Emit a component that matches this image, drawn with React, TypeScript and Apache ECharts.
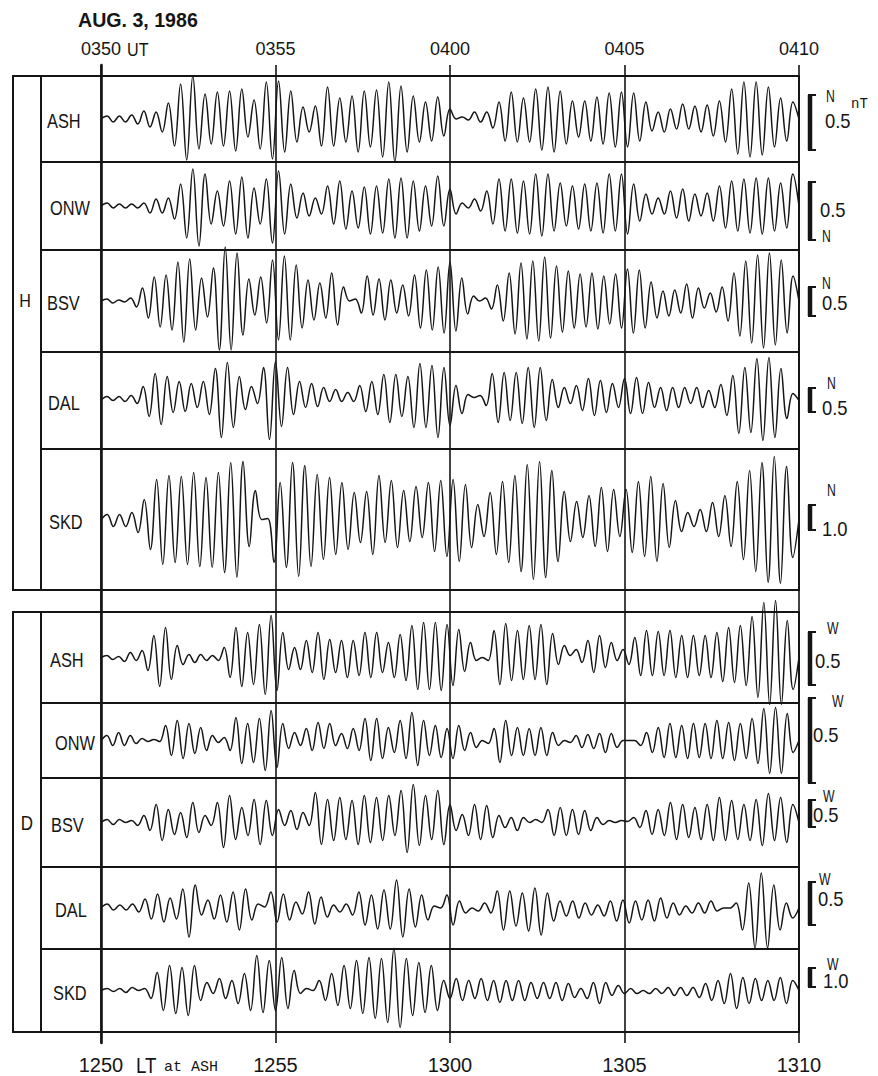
import React, { useEffect, useRef } from "react";
import * as echarts from "echarts";

// ---------- data ----------
const UT_LABELS = ["0350", "0355", "0400", "0405", "0410"];
const LT_LABELS = ["1250", "1255", "1300", "1305", "1310"];
const SPAN_SECONDS = 1200;
const TICK_SECONDS = 300;
const STATIONS = ["ASH", "ONW", "BSV", "DAL", "SKD"];
const COMPONENTS = ["H", "D"];

// successive extrema (peak, trough, ...) of each trace, in recorder units
const ASH_H = [
  3, -3, 3, -3, 4, -5, 8, -8, 7, -13, 16, -27, 35, -41, 43, -30, 25, -25, 27, -27,
  28, -32, 30, -18, 19, -30, 37, -40, 38, -33, 28, -23, 12, -13, 13, -27, 32, -27, 21, -23,
  23, -33, 28, -28, 29, -38, 37, -43, 33, -33, 23, -23, 17, -22,
  22, -17, 10, 0, 2, -1, 7, -3, 7, -9, 17, -22, 27, -23, 21, -23, 30, -31, 32, -33,
  28, -25, 18, -18, 18, -22, 22, -25, 26, -28, 27, -28, 26, -22, 17, -12, 7, -13, 10, -10,
  15, -10, 13, -13, 14, -17, 18, -23, 30, -35, 37, -38, 37, -36, 32, -28, 21, -22, 17,
];
const ONW_H = [
  3, -2, 2, -2, 2, -2, 3, -7, 7, -7, 8, -13, 22, -32, 37, -40, 32, -18, 15, -20,
  25, -28, 29, -32, 18, -18, 27, -37, 35, -28, 22, -12, 13, -10, 8, -8, 20, -18, 25, -23,
  15, -22, 19, -28, 20, -27, 27, -32, 28, -32, 25, -25, 20, -20, 30, -20,
  17, -8, 3, -2, 7, -5, 15, -18, 27, -25, 27, -27, 25, -28, 32, -30, 32, -25, 23, -20,
  20, -23, 22, -25, 23, -27, 32, -25, 32, -28, 22, -15, 12, -8, 8, -8, 15, -12, 17, -15,
  12, -10, 13, -15, 20, -22, 25, -25, 27, -27, 28, -28, 28, -25, 23, -22, 32,
];
const BSV_H = [
  2, -2, 1, -1, 3, -6, 13, -17, 24, -26, 26, -29, 39, -41, 42, -29, 23, -16, 33, -49,
  54, -49, 48, -34, 22, -14, 24, -22, 41, -39, 45, -39, 36, -27, 21, -19, 18, -17, 28, -24,
  14, 0, 2, -12, 25, -14, 22, -19, 21, -12, 16, -15, 26, -27, 31, -29, 34, -32, 39, -30,
  23, -13, 5, 0, 3, -8, 16, -20, 28, -33, 38, -38, 40, -40, 44, -37, 35, -31, 30, -27,
  27, -26, 28, -28, 25, -23, 27, -27, 32, -32, 31, -27, 19, -17, 10, -15, 11, -12, 17, -17,
  13, -7, 8, -11, 14, -20, 28, -35, 40, -42, 46, -47, 48, -44, 41, -32, 25,
];
const DAL_H = [
  4, 0, 4, -1, 5, -3, 14, -16, 27, -24, 24, -12, 19, -11, 17, -7, 19, -14, 32, -37,
  38, -27, 24, -9, 14, -3, 33, -39, 39, -26, 33, -14, 19, -7, 17, -6, 13, -1, 11, -1,
  8, -1, 15, -11, 19, -14, 26, -22, 26, -16, 24, -27, 37, -27, 35, -37, 33, -25,
  15, -13, 6, 3, 5, -5, 27, -22, 28, -20, 28, -23, 33, -27, 33, -20, 21, -7, 13, -3,
  15, -10, 22, -15, 20, -12, 17, -7, 22, -13, 23, -13, 18, -7, 13, -10, 13, -7, 13, -3,
  13, -7, 10, -7, 16, -15, 25, -33, 33, -32, 42, -40, 43, -37, 32, -18, 7,
];
const SKD_H = [
  5, -7, 5, -7, 7, -13, 20, -30, 40, -45, 44, -43, 43, -45, 47, -47, 42, -48, 47, -53,
  57, -58, 58, -27, 29, 0, 1, -43, 37, -48, 57, -57, 54, -47, 45, -40, 42, -35, 37, -30,
  27, -23, 28, -35, 44, -23, 39, -28, 29, -22, 33, -18, 37, -32, 39, -37,
  40, -42, 35, -28, 15, -17, 27, -35, 38, -43, 44, -52, 55, -60, 58, -58, 49, -42, 28, -22,
  18, -18, 24, -27, 32, -32, 30, -17, 30, -33, 38, -37, 43, -42, 36, -28, 19, -12, 7, -7,
  10, -12, 17, -17, 24, -27, 38, -40, 49, -52, 57, -63, 63, -64, 53, -38,
];
const ASH_D = [
  2, -2, 1, -4, 5, -3, 7, -13, 22, -29, 30, -22, 12, -7, 3, -5, 3, -3, 2, -3,
  10, -20, 30, -29, 25, -27, 33, -37, 42, -33, 25, -12, 10, -12, 17, -15, 25, -22, 18, -15,
  17, -20, 17, -18, 25, -20, 25, -15, 15, -20, 23, -23, 32, -32, 35, -32, 35, -33, 33, -28,
  28, -14, 15, -3, 0, -3, 27, -27, 34, -23, 27, -22, 32, -22, 33, -27, 24, -7, 12, 2,
  8, -5, 17, -15, 22, -10, 15, -3, 8, -7, 20, -18, 27, -18, 26, -18, 27, -20, 22, -20,
  22, -18, 22, -20, 25, -24, 30, -25, 32, -28, 41, -40, 55, -47, 57, -47, 37, -32,
];
const ONW_D = [
  5, -5, 8, -5, 5, -3, 2, -1, 1, -1, 15, -15, 20, -18, 17, -13, 13, -10, 5, -2,
  3, -10, 23, -23, 17, -22, 22, -30, 30, -27, 17, -8, 8, -5, 12, -10, 18, -8, 17, -5,
  7, -8, 12, -10, 22, -20, 22, -18, 13, -12, 20, -18, 28, -25, 20, -15, 15, -17, 12, -18,
  15, -10, 8, -7, 0, -3, 12, -22, 20, -15, 13, -15, 12, -15, 13, -15, 8, -5, 0, -2,
  5, -7, 6, -8, 7, -12, 7, -7, 0, 0, 0, -5, 8, -12, 13, -17, 17, -17, 15, -18,
  17, -17, 17, -18, 20, -18, 18, -20, 17, -18, 22, -23, 32, -33, 33, -33, 27, -12,
];
const BSV_D = [
  3, -2, 3, 0, 2, -3, 7, -8, 18, -18, 13, -12, 10, -15, 20, -10, 7, -3, 20, -25,
  27, -17, 15, -13, 23, -22, 22, -13, 13, -3, 12, -7, 10, -3, 30, -22, 23, -18, 25, -17,
  22, -22, 27, -20, 25, -18, 27, -13, 32, -30, 38, -23, 27, -17, 32, -22,
  18, -8, 8, -13, 18, -17, 17, -15, 7, -5, 5, -8, 5, 0, 3, 0, 13, -13, 15, -13,
  13, -12, 12, -8, 5, -2, 2, 0, 2, 1, 5, -5, 12, -12, 13, -13, 20, -17, 18, -15,
  15, -17, 18, -18, 25, -18, 22, -17, 18, -18, 23, -23, 29, -18, 25, -20, 18,
];
const DAL_D = [
  4, -2, 3, -2, 4, -4, 9, -11, 14, -14, 10, -11, 19, -29, 23, -7, 8, -11, 13, -14,
  16, -22, 19, -12, 4, 1, 16, -14, 14, -12, 6, -6, 16, -16, 11, -9, 3, -4, 4, -7,
  16, -17, 13, -21, 18, -21, 28, -29, 19, -19, 13, -12,
  2, 0, 13, -17, 7, -5, 0, -3, 5, -5, 17, -22, 17, -18, 15, -23, 20, -27, 15, -13,
  7, -8, 7, -10, 5, -7, 3, -8, 7, -13, 8, -15, 7, -12, 8, -13, 10, -10, 5, -7,
  2, -5, 5, -5, 7, -3, 0, 0, 5, -22, 25, -40, 35, -40, 23, -22, 5, -10,
];
const SKD_D = [
  2, -1, 2, -2, 3, 0, 2, -8, 18, -20, 25, -23, 23, -25, 25, -10, 8, -3, 12, -8,
  10, -13, 17, -20, 35, -22, 30, -20, 33, -18, 20, -3, 2, 0, 10, -10, 17, -15, 25, -18,
  30, -23, 33, -28, 32, -32, 42, -37, 32, -25, 28, -22, 25, -20,
  10, -8, 12, -10, 10, -8, 12, -10, 10, -12, 10, -10, 10, -10, 8, -8, 8, -8, 8, -10,
  7, -7, 2, -8, 8, -13, 8, -5, 5, -3, 2, -3, 0, -3, 2, -3, 3, -5, 3, -5,
  3, -7, 7, -10, 10, -13, 17, -18, 13, -13, 12, -10, 10, -10, 13, -13, 10,
];
const TRACES = [ASH_H, ONW_H, BSV_H, DAL_H, SKD_H, ASH_D, ONW_D, BSV_D, DAL_D, SKD_D];

// calibration bars: length in recorder units, value (nT), direction
const SCALE_LEN = [55, 58, 29, 24, 25, 53, 85, 27, 43, 19];
const SCALE_VALUE = ["0.5", "0.5", "0.5", "0.5", "1.0", "0.5", "0.5", "0.5", "0.5", "1.0"];
const SCALE_DIR = ["N", "N", "N", "N", "N", "W", "W", "W", "W", "W"];

// ---------- layout ----------
const W = 878;
const H = 1076;
const PLOT_L = 101;
const PLOT_R = 799;
const BOX_L = 13;
const COL_M = 41;
const PANEL_ROWS = [
  [76, 162, 250, 352, 449, 590],
  [612, 703, 778, 867, 949, 1032],
];
const LINE_TOP = 65;
const LINE_BOTTOM = 1043;
const BAR_TOP = [24, 24, 14, 12.5, 14.5, 25.5, 42.5, 22.5, 26, 22.5];
const BAR_DX = 10; // px right of the 0410 line
const SERIF = 7;
const NAME_X = [47, 50, 47, 48, 49, 50, 55, 51, 55, 53];
// [dirX, dirY, valX, valY]
const SCALE_TEXT_POS = [
  [826, 96, 825, 121],
  [822, 236, 820, 210],
  [822, 283, 822, 303],
  [827, 383, 822, 408],
  [827, 490, 822, 529],
  [827, 628, 815, 661],
  [832, 701, 813, 735],
  [823, 796, 813, 815],
  [819, 879, 818, 899],
  [827, 964, 823, 981],
];

const SANS = "'Liberation Sans', Arimo, Arial, sans-serif";
const MONO = "'Liberation Mono', 'DejaVu Sans Mono', monospace";
const INK = "#151515";

function rowsOf(): [number, number][] {
  const out: [number, number][] = [];
  PANEL_ROWS.forEach((r) => {
    for (let i = 0; i < r.length - 1; i++) out.push([r[i], r[i + 1]]);
  });
  return out;
}

function toSeriesData(ext: number[]): [number, number][] {
  const n = ext.length + 1;
  const pts: [number, number][] = [[0, 0]];
  ext.forEach((v, i) => pts.push([((i + 1) * SPAN_SECONDS) / n, v]));
  pts.push([SPAN_SECONDS, 0]);
  return pts;
}

const line = (x1: number, y1: number, x2: number, y2: number, w = 1.8) => ({
  type: "line",
  shape: { x1, y1, x2, y2 },
  style: { stroke: INK, lineWidth: w },
  silent: true,
});
const text = (
  x: number,
  y: number,
  t: string,
  font: string,
  align = "left",
  sx = 1,
) => ({
  type: "text",
  x,
  y,
  scaleX: sx,
  silent: true,
  style: { text: t, font, fill: INK, textAlign: align, textVerticalAlign: "middle" },
});

function buildGraphic() {
  const rows = rowsOf();
  const graphic: any[] = [];
  PANEL_ROWS.forEach((r) => {
    const top = r[0];
    const bottom = r[r.length - 1];
    graphic.push({
      type: "rect",
      shape: { x: BOX_L, y: top, width: PLOT_R - BOX_L, height: bottom - top },
      style: { fill: "none", stroke: INK, lineWidth: 2 },
      silent: true,
    });
    graphic.push(line(COL_M, top, COL_M, bottom, 2));
    for (let i = 1; i < r.length - 1; i++) graphic.push(line(COL_M, r[i], PLOT_R, r[i], 1.8));
  });

  rows.forEach(([t, b], i) => {
    const mid = (t + b) / 2;
    graphic.push(text(NAME_X[i], mid + 2, STATIONS[i % 5], `20px ${SANS}`, "left", 0.82));
    const p = SCALE_TEXT_POS[i];
    graphic.push(text(p[0], p[1], SCALE_DIR[i], `17px ${SANS}`, "left", 0.72));
    graphic.push(text(p[2], p[3], SCALE_VALUE[i], `20px ${SANS}`, "left", 0.92));
  });

  graphic.push(text(25, (rows[2][0] + rows[2][1]) / 2, COMPONENTS[0], `19px ${SANS}`, "center", 0.85));
  graphic.push(text(27, (rows[7][0] + rows[7][1]) / 2, COMPONENTS[1], `20px ${SANS}`, "center", 0.85));

  graphic.push(text(851, 104, "nT", `14px ${MONO}`));
  graphic.push(text(78, 20, "AUG. 3, 1986", `bold 20px ${SANS}`, "left", 0.98));
  graphic.push(text(127, 50, "UT", `19px ${SANS}`, "left", 0.85));
  graphic.push(text(136, 1065, "LT", `22px ${SANS}`, "left", 0.85));
  graphic.push(text(164, 1067, "at ASH", `15px ${MONO}`));
  return graphic;
}

function buildOption() {
  const rows = rowsOf();
  const grid: any[] = rows.map(([t, b]) => ({
    left: PLOT_L,
    width: PLOT_R - PLOT_L,
    top: t,
    height: b - t,
    containLabel: false,
    outerBoundsMode: "none",
  }));
  grid.push({
    left: PLOT_L,
    width: PLOT_R - PLOT_L,
    top: LINE_TOP,
    height: LINE_BOTTOM - LINE_TOP,
    containLabel: false,
    outerBoundsMode: "none",
  });
  const overlay = rows.length;

  const xAxis: any[] = rows.map((_, i) => ({
    type: "value",
    gridIndex: i,
    min: 0,
    max: SPAN_SECONDS,
    show: false,
  }));
  const labelCommon = {
    color: INK,
    fontFamily: SANS,
    showMinLabel: true,
    showMaxLabel: true,
  };
  xAxis.push({
    type: "value",
    gridIndex: overlay,
    position: "top",
    min: 0,
    max: SPAN_SECONDS,
    interval: TICK_SECONDS,
    axisLine: { show: false },
    axisTick: { show: false },
    axisLabel: {
      ...labelCommon,
      fontSize: 18,
      margin: 7,
      formatter: (v: number) => UT_LABELS[Math.round(v / TICK_SECONDS)] ?? "",
    },
    splitLine: { show: true, lineStyle: { color: INK, width: 1.6 } },
  });
  xAxis.push({
    type: "value",
    gridIndex: overlay,
    position: "bottom",
    min: 0,
    max: SPAN_SECONDS,
    interval: TICK_SECONDS,
    axisLine: { show: false },
    axisTick: { show: false },
    axisLabel: {
      ...labelCommon,
      fontSize: 20,
      margin: 12,
      formatter: (v: number) => LT_LABELS[Math.round(v / TICK_SECONDS)] ?? "",
    },
    splitLine: { show: false },
  });

  const yAxis: any[] = rows.map(([t, b], i) => ({
    type: "value",
    gridIndex: i,
    min: -(b - t) / 2,
    max: (b - t) / 2,
    show: false,
  }));
  yAxis.push({
    type: "value",
    gridIndex: overlay,
    min: 0,
    max: 1,
    axisLine: { show: true, lineStyle: { color: INK, width: 2.6 } },
    axisTick: { show: false },
    axisLabel: { show: false },
    splitLine: { show: false },
  });

  const series: any[] = TRACES.map((ext, i) => ({
    type: "line",
    name: `${COMPONENTS[i < 5 ? 0 : 1]} ${STATIONS[i % 5]}`,
    xAxisIndex: i,
    yAxisIndex: i,
    data: toSeriesData(ext),
    showSymbol: false,
    smooth: 0.4,
    clip: false,
    silent: true,
    lineStyle: { color: INK, width: 1.5 },
  }));

  return {
    animation: false,
    backgroundColor: "#ffffff",
    grid,
    xAxis,
    yAxis,
    series,
    graphic: { elements: buildGraphic() },
  };
}

export default function App() {
  const ref = useRef<HTMLDivElement | null>(null);
  useEffect(() => {
    if (!ref.current) return;
    const chart = echarts.init(ref.current, undefined, { renderer: "svg", width: W, height: H });
    chart.setOption(buildOption() as any);
    // calibration bars, placed through each trace's own y scale
    const bars: any[] = [];
    rowsOf().forEach((_, i) => {
      const top = BAR_TOP[i];
      const bottom = top - SCALE_LEN[i];
      const pTop = chart.convertToPixel({ gridIndex: i } as any, [SPAN_SECONDS, top]) as number[];
      const pBot = chart.convertToPixel({ gridIndex: i } as any, [SPAN_SECONDS, bottom]) as number[];
      if (!pTop || !pBot) return;
      const x = pTop[0] + BAR_DX;
      bars.push({
        type: "polyline",
        silent: true,
        shape: {
          points: [
            [x + SERIF, pTop[1]],
            [x, pTop[1]],
            [x, pBot[1]],
            [x + SERIF, pBot[1]],
          ],
        },
        style: { stroke: INK, lineWidth: 2, fill: "none", lineJoin: "miter" },
      });
      bars.push({
        type: "line",
        silent: true,
        shape: { x1: x + 1, y1: pTop[1], x2: x + 1, y2: pBot[1] },
        style: { stroke: INK, lineWidth: 4.5 },
      });
    });
    chart.setOption({ graphic: { elements: [...buildGraphic(), ...bars] } } as any, {
      replaceMerge: ["graphic"],
    } as any);
    return () => chart.dispose();
  }, []);
  return (
    <div
      ref={ref}
      style={{ position: "absolute", left: 0, top: 0, width: W, height: H, background: "#fff" }}
    />
  );
}
